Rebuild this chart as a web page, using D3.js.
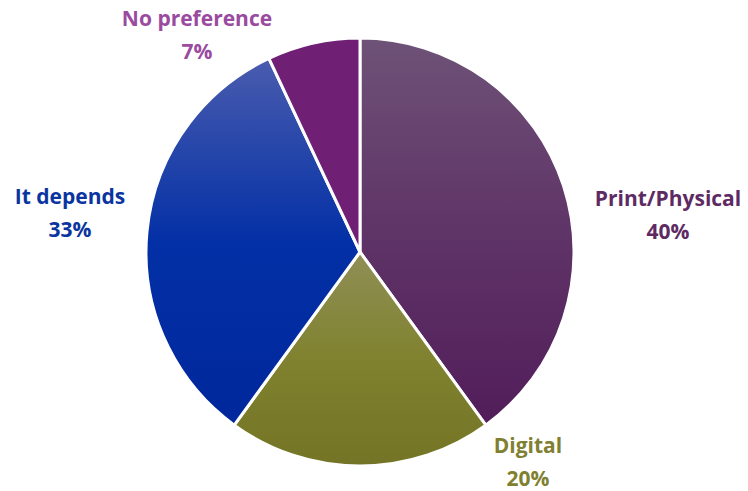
<!DOCTYPE html>
<html>
<head>
<meta charset="utf-8">
<script src="https://cdn.jsdelivr.net/npm/d3@7"></script>
<style>
  body { margin: 0; background: #fff; }
  svg { display: block; }
</style>
</head>
<body>
<svg width="748" height="491"></svg>
<script>
  // data
  const categories = ["Print/Physical", "Digital", "It depends", "No preference"];
  const shares = [40, 20, 33, 7];
  // gradient stops (top, middle, bottom) per slice
  const topColors = ["#6e5277", "#8f8f56", "#4a5cae", "#6f1f74"];
  const midColors = ["#5f3467", "#80822f", "#0330a6", "#6f1f74"];
  const bottomColors = ["#521d5a", "#737425", "#00279c", "#6f1f74"];
  const labelColors = ["#5e2a64", "#7f8131", "#0a35a0", "#9a4ba0"];
  // label anchor (x, y of first line)
  const labelPos = [[668, 206], [528, 453], [70, 204], [197, 26]];

  const width = 748, height = 491;
  const cx = 360, cy = 252, radius = 214;

  const svg = d3.select("svg");
  const defs = svg.append("defs");

  // vertical gradient per slice (over the slice's own box)
  categories.forEach((c, i) => {
    const g = defs.append("linearGradient")
      .attr("id", "grad" + i)
      .attr("x1", 0).attr("x2", 0)
      .attr("y1", 0).attr("y2", 1);
    g.append("stop").attr("offset", "0%").attr("stop-color", topColors[i]);
    g.append("stop").attr("offset", "50%").attr("stop-color", midColors[i]);
    g.append("stop").attr("offset", "100%").attr("stop-color", bottomColors[i]);
  });

  const data = categories.map((c, i) => ({ name: c, value: shares[i], idx: i }));

  const pie = d3.pie()
    .value(d => d.value)
    .sort(null);

  const arc = d3.arc()
    .innerRadius(0)
    .outerRadius(radius);

  const g = svg.append("g")
    .attr("transform", `translate(${cx}, ${cy})`);

  g.selectAll("path")
    .data(pie(data))
    .enter().append("path")
    .attr("d", arc)
    .attr("fill", d => `url(#grad${d.data.idx})`)
    .attr("stroke", "#fff")
    .attr("stroke-width", 3)
    .attr("stroke-linejoin", "round");

  // labels
  const labels = svg.selectAll(".lbl")
    .data(data)
    .enter().append("text")
    .attr("class", "lbl")
    .attr("text-anchor", "middle")
    .attr("font-family", "'Open Sans', sans-serif")
    .attr("font-weight", "bold")
    .attr("font-size", "21px")
    .attr("fill", d => labelColors[d.idx]);

  labels.append("tspan")
    .attr("x", d => labelPos[d.idx][0])
    .attr("y", d => labelPos[d.idx][1])
    .text(d => d.name);

  labels.append("tspan")
    .attr("x", d => labelPos[d.idx][0])
    .attr("y", d => labelPos[d.idx][1] + 33)
    .text(d => d.value + "%");
</script>
</body>
</html>
